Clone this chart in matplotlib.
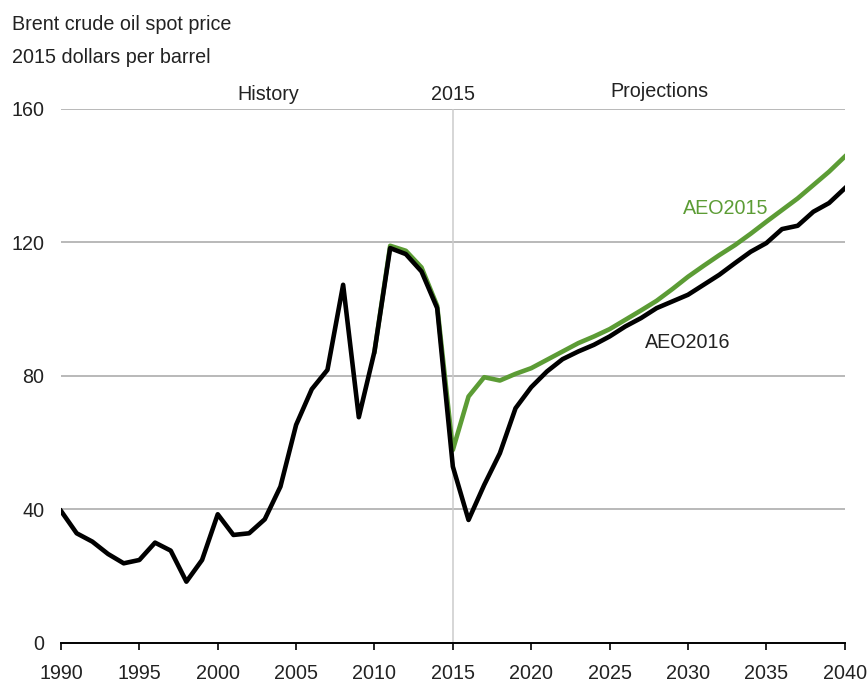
import numpy as np
import matplotlib
matplotlib.use("Agg")
import matplotlib.pyplot as plt

plt.rcParams['font.family'] = ['Liberation Sans', 'DejaVu Sans']

# history, 1990-2015 (2015 dollars per barrel)
hist_years = list(range(1990, 2016))
hist_price = [39.5, 32.8, 30.3, 26.6, 23.8, 24.8, 30.0, 27.6, 18.3, 24.8,
              38.5, 32.3, 32.8, 37.0, 46.8, 65.3, 76.0, 81.8, 107.3, 67.6,
              87.3, 118.3, 116.5, 111.3, 100.3, 52.8]

# AEO2016 projection, 2016-2040
aeo16_years = list(range(2016, 2041))
aeo16_price = [36.8, 47.3, 56.8, 70.3, 76.6, 81.3, 85.0, 87.3, 89.3, 91.8,
               94.8, 97.3, 100.3, 102.3, 104.3, 107.3, 110.3, 113.8, 117.2, 119.8,
               124.0, 125.0, 129.2, 131.8, 136.2]

# AEO2015 (history as of that edition + projection), 2010-2040
aeo15_years = list(range(2010, 2041))
aeo15_price = [87.3, 119.0, 117.5, 112.5, 101.0, 57.8, 73.8, 79.6, 78.6, 80.6,
               82.3, 84.8, 87.3, 89.8, 91.8, 94.0, 96.8, 99.6, 102.5, 106.0,
               109.7, 113.0, 116.2, 119.2, 122.6, 126.2, 129.7, 133.2, 137.2, 141.2,
               145.7]

yticks = [0, 40, 80, 120, 160]
xticks = list(range(1990, 2041, 5))

green = '#5c9c35'
txt = '#222222'
fs = 14.2

fig = plt.figure(figsize=(8.67, 6.82), dpi=100)
ax = fig.add_axes([61/867, 1 - 642.7/682, (844.7-61)/867, (642.7-109)/682])

for v in yticks[1:]:
    ax.axhline(v, color='#a6a6a6', lw=1.1, zorder=1)
ax.plot([2015, 2015], [0, 160], color='#cccccc', lw=1.1, zorder=1)

ax.plot(aeo15_years, aeo15_price, color=green, lw=3.3, zorder=3, solid_joinstyle='round')
black_x = hist_years + aeo16_years
black_y = hist_price + aeo16_price
ax.plot(black_x, black_y, color='black', lw=3.3, zorder=4, solid_joinstyle='round')

ax.set_xlim(1990, 2040)
ax.set_ylim(0, 160)
for s in ['top', 'right', 'left']:
    ax.spines[s].set_visible(False)
ax.spines['bottom'].set_linewidth(1.4)
ax.spines['bottom'].set_zorder(5)
ax.set_xticks(xticks)
ax.set_yticks(yticks)
ax.tick_params(axis='x', direction='out', length=5, width=1.2, pad=10,
               labelsize=fs, labelcolor=txt)
ax.tick_params(axis='y', length=0, pad=12, labelsize=fs, labelcolor=txt)

fig.text(12/867, 1 - 30/682, 'Brent crude oil spot price', fontsize=fs,
         color=txt, va='baseline', ha='left')
fig.text(12/867, 1 - 63/682, '2015 dollars per barrel', fontsize=fs,
         color=txt, va='baseline', ha='left')

ax.text(2003.2, 162.7, 'History', fontsize=fs, color=txt, ha='center',
        va='baseline', clip_on=False)
ax.text(2015, 162.7, '2015', fontsize=fs, color=txt, ha='center',
        va='baseline', clip_on=False)
ax.text(2028.2, 163.5, 'Projections', fontsize=fs, color=txt, ha='center',
        va='baseline', clip_on=False)

ax.text(2032.4, 128.5, 'AEO2015', fontsize=fs, color=green, ha='center', va='baseline')
ax.text(2030.0, 88.4, 'AEO2016', fontsize=fs, color=txt, ha='center', va='baseline')

fig.savefig('out.png', dpi=100)
